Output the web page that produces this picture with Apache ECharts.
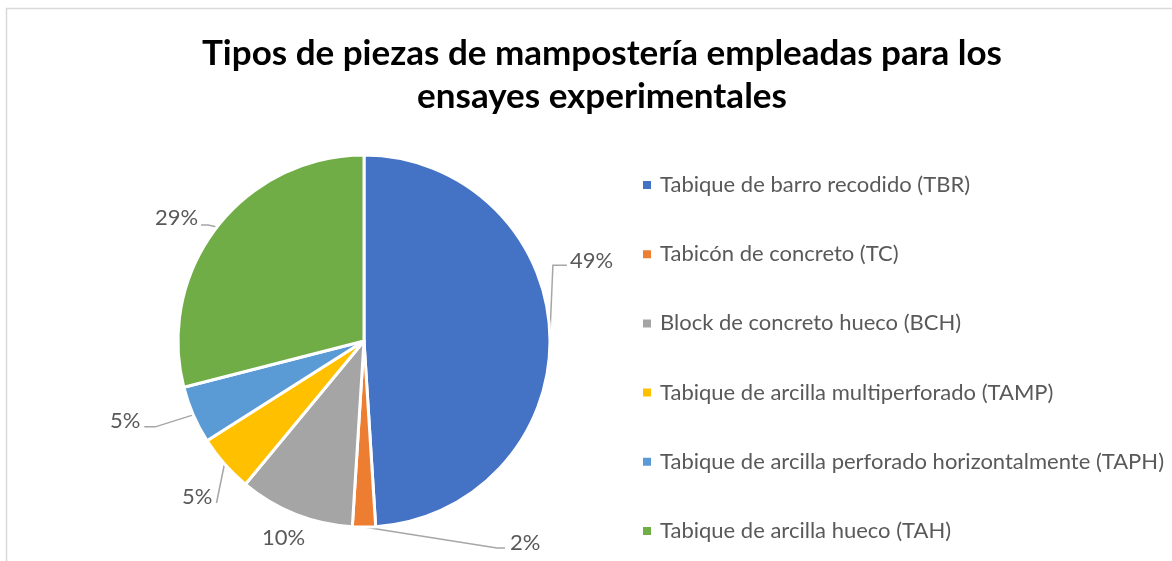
<!DOCTYPE html>
<html>
<head>
<meta charset="utf-8">
<script src="https://cdn.jsdelivr.net/npm/echarts@6/dist/echarts.min.js"></script>
<style>
  html, body { margin: 0; padding: 0; background: #ffffff; }
  #chart { width: 1172px; height: 561px; }
</style>
</head>
<body>
<div id="chart"></div>
<script>
// Masonry unit types used in the experimental tests (share of specimens, %)
const categories = [
  'Tabique de barro recodido (TBR)',
  'Tabicón de concreto (TC)',
  'Block de concreto hueco (BCH)',
  'Tabique de arcilla multiperforado (TAMP)',
  'Tabique de arcilla perforado horizontalmente (TAPH)',
  'Tabique de arcilla hueco (TAH)'
];
const shares = [49, 2, 10, 5, 5, 29];
const colors = ['#4472C4', '#ED7D31', '#A5A5A5', '#FFC000', '#5B9BD5', '#70AD47'];

const titleLines = ['Tipos de piezas de mampostería empleadas para los', 'ensayes experimentales'];

const pieCenter = [364, 341];
const pieRadius = 186;

// Label placement relative to the point where each slice's bisector meets the rim:
// [dx, dy, align, leader polyline offsets (null = no leader)]
const labelPlacement = [
  [20, -74, 'left',   [[3, -70], [17, -70]]],
  [146, 16, 'left',   [[133, 21], [141, 21]]],
  [-12, 24, 'center', null],
  [-12, 33, 'right',  [[-8, 39]]],
  [-53, 6, 'right',   [[-38, 12], [-49, 12]]],
  [-19, -9, 'right',  [[-9, -2], [-16, -2]]]
];

const total = shares.reduce((a, b) => a + b, 0);
const rimPoints = [];
let acc = 0;
shares.forEach(v => {
  const mid = (acc + v / 2) / total * Math.PI * 2; // clockwise from 12 o'clock
  rimPoints.push([pieCenter[0] + pieRadius * Math.sin(mid), pieCenter[1] - pieRadius * Math.cos(mid)]);
  acc += v;
});

const chart = echarts.init(document.getElementById('chart'), null, { renderer: 'canvas' });

chart.setOption({
  backgroundColor: '#ffffff',
  animation: false,
  color: colors,
  graphic: [{
    type: 'rect',
    shape: { x: 6.5, y: 8.5, width: 1400, height: 800 },
    style: { fill: 'none', stroke: '#d9d9d9', lineWidth: 1.5 },
    silent: true
  }],
  title: {
    text: titleLines.join('\n'),
    left: 597,
    top: 27,
    textAlign: 'center',
    textStyle: {
      fontFamily: 'Lato',
      fontWeight: 'bold',
      fontSize: 35,
      lineHeight: 43,
      color: '#000000'
    }
  },
  legend: {
    orient: 'vertical',
    left: 641,
    top: 173,
    padding: 0,
    itemWidth: 10,
    itemHeight: 10,
    itemGap: 45.2,
    icon: 'rect',
    selectedMode: false,
    data: categories,
    textStyle: {
      fontFamily: 'Lato',
      fontSize: 22,
      lineHeight: 24,
      color: '#595959',
      padding: [0, 0, 0, 3]
    }
  },
  series: [{
    type: 'pie',
    center: pieCenter,
    radius: pieRadius,
    startAngle: 90,
    clockwise: true,
    avoidLabelOverlap: false,
    itemStyle: { borderColor: '#ffffff', borderWidth: 3 },
    label: {
      show: true,
      position: 'outside',
      formatter: '{c}%',
      fontFamily: 'Lato',
      fontSize: 22,
      color: '#595959'
    },
    labelLine: {
      show: true,
      length: 10,
      length2: 10,
      lineStyle: { color: '#a6a6a6', width: 1.5 }
    },
    labelLayout: function (params) {
      const i = params.dataIndex;
      const p = labelPlacement[i];
      const rim = rimPoints[i];
      const out = {
        x: rim[0] + p[0],
        y: rim[1] + p[1],
        align: p[2],
        verticalAlign: 'middle'
      };
      if (p[3]) {
        out.labelLinePoints = [rim].concat(p[3].map(o => [rim[0] + o[0], rim[1] + o[1]]));
      } else {
        out.labelLinePoints = [rim, rim, rim];
      }
      return out;
    },
    data: categories.map((name, i) => ({ name: name, value: shares[i] }))
  }]
});
</script>
</body>
</html>
